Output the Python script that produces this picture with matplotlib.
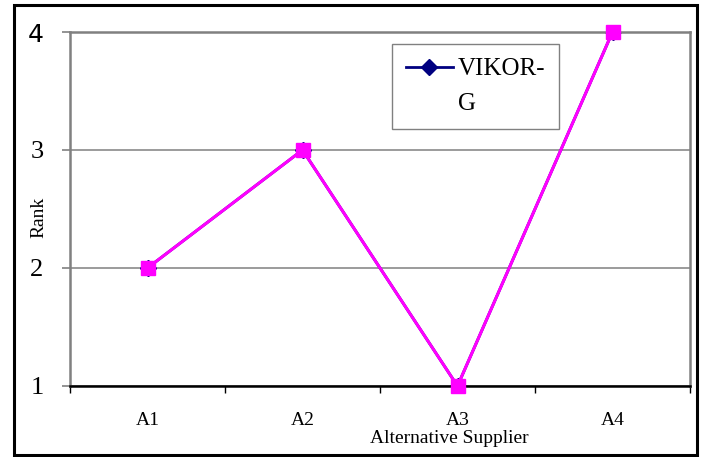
import matplotlib.pyplot as plt
from matplotlib.lines import Line2D
from matplotlib.patches import Rectangle

# data
suppliers = ['A1', 'A2', 'A3', 'A4']
vikor_g = [2, 3, 1, 4]
rank_line = [2, 3, 1, 4]   # magenta series drawn on top
y_ticks = [1, 2, 3, 4]

serif = 'Liberation Serif'
grey = '#808080'

fig = plt.figure(figsize=(7.02, 4.57), dpi=100)
ax = fig.add_axes([70 / 702, 71 / 457, 620 / 702, 354 / 457])

# outer frame around whole chart
fig.patches.append(Rectangle((14 / 702, 2 / 457), 683 / 702, 450 / 457,
                             transform=fig.transFigure, fill=False,
                             edgecolor='black', linewidth=2.2))

x = list(range(len(suppliers)))
ax.plot(x, vikor_g, color='#000080', marker='D', markersize=8, linewidth=2)
ax.plot(x, rank_line, color='#FF00FF', marker='s', markersize=10,
        linewidth=2.2, clip_on=False, zorder=5)

ax.set_xlim(-0.5, len(suppliers) - 0.5)
ax.set_ylim(1, 4)

# y axis
ax.set_yticks(y_ticks)
ax.set_yticklabels([str(v) for v in y_ticks], fontsize=19, family=serif)
ax.get_yticklabels()[-1].set_family('DejaVu Sans')
ax.get_yticklabels()[-1].set_fontsize(18)
ax.tick_params(axis='y', direction='out', length=6, width=1.2, color=grey, pad=13)
ax.yaxis.grid(True, color=grey, linewidth=1.1)
ax.set_axisbelow(True)

# x axis: labels centred, ticks on the category borders
ax.set_xticks(x)
ax.set_xticklabels(suppliers, fontsize=14, family=serif)
ax.set_xticks([i - 0.5 for i in range(len(suppliers) + 1)], minor=True)
ax.tick_params(axis='x', which='major', length=0, pad=19)
ax.tick_params(axis='x', which='minor', direction='out', length=5, width=1, color='black')

ax.set_ylabel('Rank', fontsize=14, family=serif)
ax.yaxis.set_label_coords(-0.037, 0.475)
ax.set_xlabel('Alternative Supplier', fontsize=14, family=serif, va='top')
ax.xaxis.set_label_coords(0.611, -0.124)

for side in ['left', 'top', 'right']:
    ax.spines[side].set_color(grey)
    ax.spines[side].set_linewidth(1.8)
ax.spines['bottom'].set_color('black')
ax.spines['bottom'].set_linewidth(1.8)

handles = [Line2D([], [], color='#000080', marker='D', markersize=8, linewidth=2),
           Line2D([], [], linestyle='none')]
leg = ax.legend(handles, ['VIKOR-', 'G'], loc='upper left',
                bbox_to_anchor=(0.519, 0.966),
                prop={'family': serif, 'size': 18}, frameon=True, fancybox=False,
                framealpha=1, edgecolor=grey, borderpad=0.55, labelspacing=0.5,
                handlelength=1.9, handletextpad=0.2, borderaxespad=0)
leg.get_frame().set_linewidth(1.0)

fig.savefig('out.png', dpi=100)
